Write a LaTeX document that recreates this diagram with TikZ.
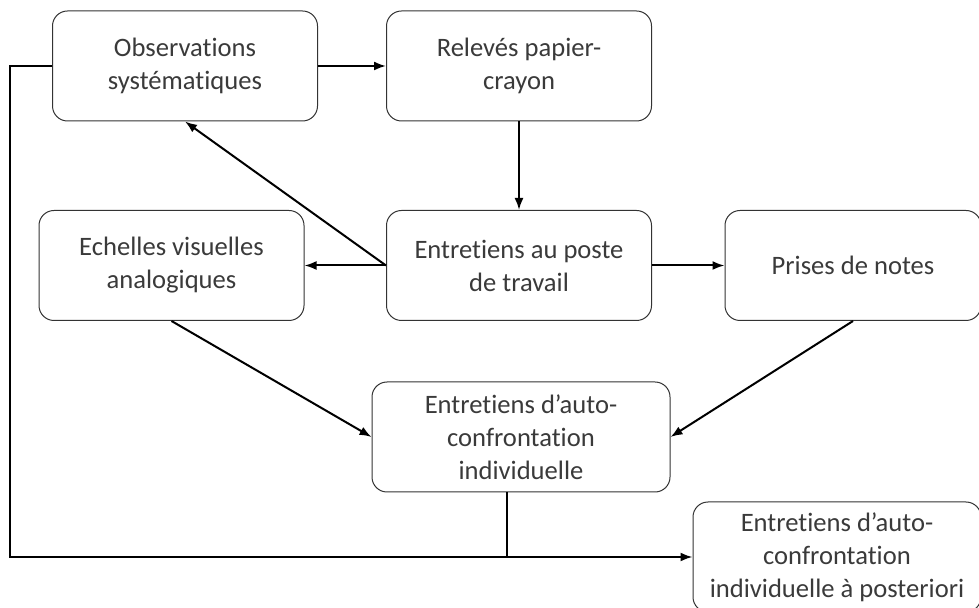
\documentclass[tikz,border=0pt]{standalone}
\usepackage{fontspec}
\setmainfont{Carlito}[Ligatures=NoCommon]
\usepackage{tikz}
\usetikzlibrary{arrows.meta}
\usepackage{xcolor}
\definecolor{texte}{HTML}{3A3A3A}

\begin{document}
\begin{tikzpicture}[x=0.5pt, y=-0.5pt,
    boite/.style={draw=black!80, line width=0.5pt, rounded corners=7.5pt, align=center,
        minimum width=132.5pt, minimum height=55pt, text=texte, font=\fontsize{13.3}{16.5}\selectfont},
    fleche/.style={-{Latex[length=6pt, width=4.5pt]}, line width=1pt},
    trait/.style={line width=1pt}]
    \useasboundingbox (0,0) rectangle (979,608);

    % Boîtes
    \node[boite] (obs) at (185,66) {Observations\\systématiques};
    \node[boite] (rel) at (519,66) {Relevés papier-\\crayon};
    \node[boite] (ech) at (171.5,265.5) {Echelles visuelles\\analogiques};
    \node[boite] (ent) at (519,265.5) {Entretiens au poste\\de travail};
    \node[boite, minimum width=128pt] (pri) at (853,265.5) {Prises de notes};
    \node[boite, minimum width=149pt] (auto) at (521,437) {Entretiens d’auto-\\confrontation\\individuelle};
    \node[boite, minimum width=144pt] (post) at (837,557) {Entretiens d’auto-\\confrontation\\individuelle à posteriori};
    \coordinate (coin) at (10,66);

    % Flèches
    \draw[fleche] (obs) -- (rel);
    \draw[fleche] (rel) -- (ent);
    \draw[fleche] (ent.west) -- (obs.south);
    \draw[fleche] (ent.west) -- (ech.east);
    \draw[fleche] (ent) -- (pri);
    \draw[fleche] (ech.south) -- (auto.west);
    \draw[fleche] (pri.south) -- (auto.east);

    % Retour vers la dernière étape
    \draw[fleche] (obs.west) -- (coin) |- (post.west);
    \draw[trait] ([xshift=-7pt]auto.south) -- ([xshift=-7pt]auto.south |- post.west);

\end{tikzpicture}
\end{document}
